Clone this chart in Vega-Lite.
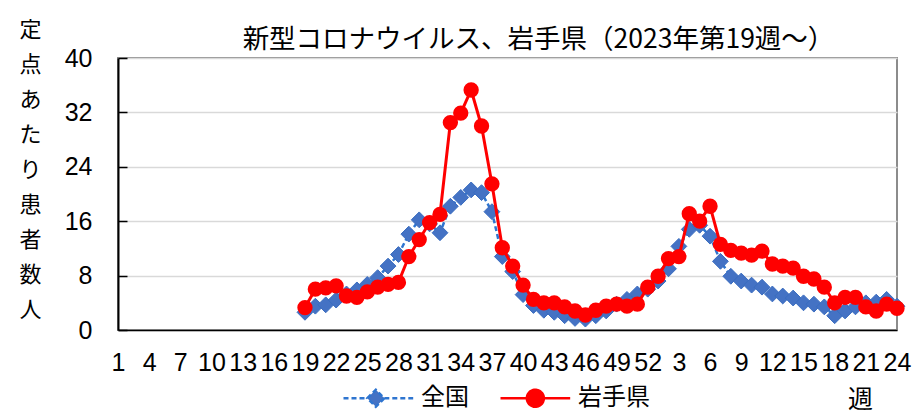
{
  "$schema": "https://vega.github.io/schema/vega-lite/v6.json",
  "width": 779,
  "height": 272,
  "autosize": "none",
  "padding": {"left": 118, "top": 58, "right": 18, "bottom": 83},
  "background": "white",
  "title": {
    "text": "新型コロナウイルス、岩手県（2023年第19週～）",
    "font": "Noto Sans CJK JP",
    "fontSize": 26.5,
    "fontWeight": "normal",
    "color": "black",
    "anchor": "middle",
    "dx": 31,
    "offset": -35
  },
  "config": {
    "view": {"stroke": "#8c8c8c", "strokeWidth": 2},
    "axis": {"labelColor": "black", "titleColor": "black"},
    "legend": {
      "orient": "none",
      "legendX": 222,
      "legendY": 328,
      "direction": "horizontal",
      "padding": 0,
      "symbolSize": 289,
      "symbolOpacity": 1,
      "symbolStrokeWidth": 2.5,
      "labelOffset": 57,
      "labelFont": "Noto Sans CJK JP",
      "labelFontSize": 24,
      "labelColor": "black",
      "columnPadding": 26
    }
  },
  "data": {
    "values": [
      {"t": 19, "s": "全国", "v": 2.6}, {"t": 19, "s": "岩手県", "v": 3.3},
      {"t": 20, "s": "全国", "v": 3.5}, {"t": 20, "s": "岩手県", "v": 6.0},
      {"t": 21, "s": "全国", "v": 3.7}, {"t": 21, "s": "岩手県", "v": 6.2},
      {"t": 22, "s": "全国", "v": 4.4}, {"t": 22, "s": "岩手県", "v": 6.5},
      {"t": 23, "s": "全国", "v": 5.3}, {"t": 23, "s": "岩手県", "v": 5.0},
      {"t": 24, "s": "全国", "v": 5.9}, {"t": 24, "s": "岩手県", "v": 4.8},
      {"t": 25, "s": "全国", "v": 6.7}, {"t": 25, "s": "岩手県", "v": 5.6},
      {"t": 26, "s": "全国", "v": 7.7}, {"t": 26, "s": "岩手県", "v": 6.3},
      {"t": 27, "s": "全国", "v": 9.4}, {"t": 27, "s": "岩手県", "v": 6.7},
      {"t": 28, "s": "全国", "v": 11.1}, {"t": 28, "s": "岩手県", "v": 7.0},
      {"t": 29, "s": "全国", "v": 14.1}, {"t": 29, "s": "岩手県", "v": 10.8},
      {"t": 30, "s": "全国", "v": 16.2}, {"t": 30, "s": "岩手県", "v": 13.3},
      {"t": 31, "s": "全国", "v": 15.6}, {"t": 31, "s": "岩手県", "v": 15.8},
      {"t": 32, "s": "全国", "v": 14.3}, {"t": 32, "s": "岩手県", "v": 17.0},
      {"t": 33, "s": "全国", "v": 18.2}, {"t": 33, "s": "岩手県", "v": 30.5},
      {"t": 34, "s": "全国", "v": 19.5}, {"t": 34, "s": "岩手県", "v": 31.9},
      {"t": 35, "s": "全国", "v": 20.6}, {"t": 35, "s": "岩手県", "v": 35.3},
      {"t": 36, "s": "全国", "v": 20.2}, {"t": 36, "s": "岩手県", "v": 30.0},
      {"t": 37, "s": "全国", "v": 17.4}, {"t": 37, "s": "岩手県", "v": 21.5},
      {"t": 38, "s": "全国", "v": 10.8}, {"t": 38, "s": "岩手県", "v": 12.1},
      {"t": 39, "s": "全国", "v": 8.6}, {"t": 39, "s": "岩手県", "v": 9.4},
      {"t": 40, "s": "全国", "v": 5.2}, {"t": 40, "s": "岩手県", "v": 6.6},
      {"t": 41, "s": "全国", "v": 3.6}, {"t": 41, "s": "岩手県", "v": 4.5},
      {"t": 42, "s": "全国", "v": 2.9}, {"t": 42, "s": "岩手県", "v": 4.0},
      {"t": 43, "s": "全国", "v": 2.6}, {"t": 43, "s": "岩手県", "v": 4.0},
      {"t": 44, "s": "全国", "v": 2.1}, {"t": 44, "s": "岩手県", "v": 3.4},
      {"t": 45, "s": "全国", "v": 1.7}, {"t": 45, "s": "岩手県", "v": 2.8},
      {"t": 46, "s": "全国", "v": 1.6}, {"t": 46, "s": "岩手県", "v": 2.2},
      {"t": 47, "s": "全国", "v": 2.1}, {"t": 47, "s": "岩手県", "v": 2.9},
      {"t": 48, "s": "全国", "v": 2.8}, {"t": 48, "s": "岩手県", "v": 3.5},
      {"t": 49, "s": "全国", "v": 3.8}, {"t": 49, "s": "岩手県", "v": 3.8},
      {"t": 50, "s": "全国", "v": 4.5}, {"t": 50, "s": "岩手県", "v": 3.5},
      {"t": 51, "s": "全国", "v": 5.3}, {"t": 51, "s": "岩手県", "v": 3.8},
      {"t": 52, "s": "全国", "v": 6.0}, {"t": 52, "s": "岩手県", "v": 6.3},
      {"t": 53, "s": "全国", "v": 7.2}, {"t": 53, "s": "岩手県", "v": 7.9},
      {"t": 54, "s": "全国", "v": 9.0}, {"t": 54, "s": "岩手県", "v": 10.5},
      {"t": 55, "s": "全国", "v": 12.3}, {"t": 55, "s": "岩手県", "v": 10.8},
      {"t": 56, "s": "全国", "v": 14.8}, {"t": 56, "s": "岩手県", "v": 17.1},
      {"t": 57, "s": "全国", "v": 15.4}, {"t": 57, "s": "岩手県", "v": 16.0},
      {"t": 58, "s": "全国", "v": 13.8}, {"t": 58, "s": "岩手県", "v": 18.2},
      {"t": 59, "s": "全国", "v": 10.1}, {"t": 59, "s": "岩手県", "v": 12.6},
      {"t": 60, "s": "全国", "v": 7.9}, {"t": 60, "s": "岩手県", "v": 11.7},
      {"t": 61, "s": "全国", "v": 7.2}, {"t": 61, "s": "岩手県", "v": 11.3},
      {"t": 62, "s": "全国", "v": 6.6}, {"t": 62, "s": "岩手県", "v": 11.0},
      {"t": 63, "s": "全国", "v": 6.3}, {"t": 63, "s": "岩手県", "v": 11.6},
      {"t": 64, "s": "全国", "v": 5.3}, {"t": 64, "s": "岩手県", "v": 9.7},
      {"t": 65, "s": "全国", "v": 5.0}, {"t": 65, "s": "岩手県", "v": 9.4},
      {"t": 66, "s": "全国", "v": 4.7}, {"t": 66, "s": "岩手県", "v": 9.1},
      {"t": 67, "s": "全国", "v": 4.0}, {"t": 67, "s": "岩手県", "v": 7.9},
      {"t": 68, "s": "全国", "v": 3.8}, {"t": 68, "s": "岩手県", "v": 7.5},
      {"t": 69, "s": "全国", "v": 3.4}, {"t": 69, "s": "岩手県", "v": 6.3},
      {"t": 70, "s": "全国", "v": 2.1}, {"t": 70, "s": "岩手県", "v": 4.0},
      {"t": 71, "s": "全国", "v": 2.8}, {"t": 71, "s": "岩手県", "v": 4.8},
      {"t": 72, "s": "全国", "v": 3.4}, {"t": 72, "s": "岩手県", "v": 4.8},
      {"t": 73, "s": "全国", "v": 4.0}, {"t": 73, "s": "岩手県", "v": 3.4},
      {"t": 74, "s": "全国", "v": 4.1}, {"t": 74, "s": "岩手県", "v": 2.8},
      {"t": 75, "s": "全国", "v": 4.5}, {"t": 75, "s": "岩手県", "v": 3.8},
      {"t": 76, "s": "全国", "v": 3.5}, {"t": 76, "s": "岩手県", "v": 3.2}
    ]
  },
  "encoding": {
    "x": {
      "field": "t",
      "type": "quantitative",
      "scale": {"domain": [1, 76], "nice": false, "zero": false},
      "axis": {
        "values": [1, 4, 7, 10, 13, 16, 19, 22, 25, 28, 31, 34, 37, 40, 43, 46, 49, 52, 55, 58, 61, 64, 67, 70, 73, 76],
        "labelExpr": "datum.value > 52 ? '' + (datum.value - 52) : '' + datum.value",
        "title": "週",
        "titleX": 742,
        "titleY": 69,
        "titleBaseline": "middle",
        "titleAlign": "center",
        "titleAngle": 0,
        "titleFont": "Noto Sans CJK JP",
        "titleFontSize": 25,
        "titleFontWeight": "normal",
        "labelFont": "Liberation Sans",
        "labelFontSize": 25,
        "labelPadding": 20,
        "labelOverlap": false,
        "labelFlush": false,
        "ticks": false,
        "grid": false,
        "domainColor": "black",
        "domainWidth": 1.5
      }
    },
    "y": {
      "field": "v",
      "type": "quantitative",
      "scale": {"domain": [0, 40], "nice": false},
      "axis": {
        "values": [0, 8, 16, 24, 32, 40],
        "title": ["定", "点", "あ", "た", "り", "患", "者", "数", "人"],
        "titleAngle": 0,
        "titleX": -88,
        "titleY": -39,
        "titleBaseline": "top",
        "titleAlign": "center",
        "titleFont": "Noto Sans CJK JP",
        "titleFontSize": 22,
        "titleFontWeight": "normal",
        "titleLineHeight": 35,
        "labelFont": "Liberation Sans",
        "labelFontSize": 25,
        "labelPadding": 35,
        "tickSize": -9,
        "tickColor": "black",
        "tickWidth": 1.5,
        "domainColor": "black",
        "domainWidth": 2,
        "gridColor": "#D9D9D9",
        "gridWidth": 1.5
      }
    }
  },
  "layer": [
    {
      "mark": {"type": "point", "opacity": 0, "size": 289, "filled": false},
      "encoding": {
        "fill": {
          "field": "s",
          "type": "nominal",
          "scale": {"domain": ["全国", "岩手県"], "range": ["#4472C4", "#FF0000"]},
          "legend": {"title": null}
        },
        "stroke": {
          "field": "s",
          "type": "nominal",
          "scale": {"domain": ["全国", "岩手県"], "range": ["#2E75D0", "#FF0000"]},
          "legend": {"title": null}
        },
        "shape": {
          "field": "s",
          "type": "nominal",
          "scale": {
            "domain": ["全国", "岩手県"],
            "range": [
              "M-1,0H1.8M3.8,0H7.2M1.8,0L2.8,-1L3.8,0L2.8,1Z",
              "M-1,0H2.1M4.1,0H7.2M2.1,0A1,1,0,1,1,4.1,0A1,1,0,1,1,2.1,0Z"
            ]
          },
          "legend": {"title": null}
        },
        "strokeDash": {
          "field": "s",
          "type": "nominal",
          "scale": {"domain": ["全国", "岩手県"], "range": [[5, 3], [1, 0]]},
          "legend": {"title": null}
        }
      }
    },
    {
      "transform": [{"filter": "datum.s === '全国'"}],
      "layer": [
        {"mark": {"type": "line", "stroke": "#2E75D0", "strokeWidth": 2.5, "strokeDash": [5, 3]}, "encoding": {}},
        {"mark": {"type": "point", "shape": "diamond", "filled": true, "size": 250, "fill": "#4472C4", "stroke": "#3A6DC0", "strokeWidth": 1, "opacity": 1}, "encoding": {}}
      ]
    },
    {
      "transform": [{"filter": "datum.s === '岩手県'"}],
      "layer": [
        {"mark": {"type": "line", "stroke": "#FF0000", "strokeWidth": 3}, "encoding": {}},
        {"mark": {"type": "point", "shape": "circle", "filled": true, "size": 235, "fill": "#FF0000", "opacity": 1}, "encoding": {}}
      ]
    }
  ]
}
